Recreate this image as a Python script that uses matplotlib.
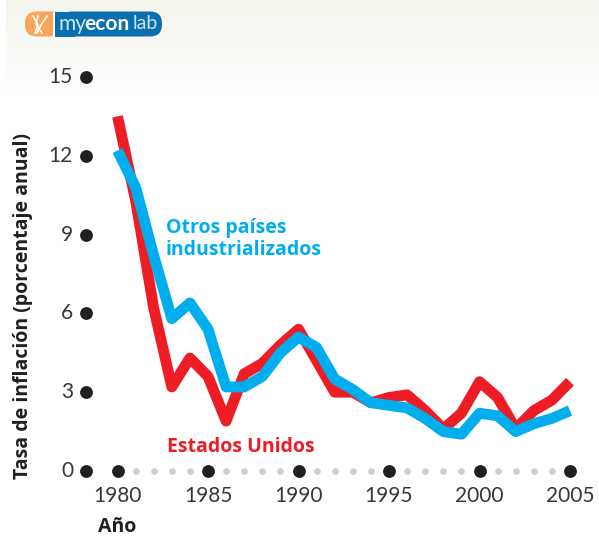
import numpy as np
import matplotlib
matplotlib.use('Agg')
import matplotlib.pyplot as plt
from matplotlib.patches import FancyBboxPatch, Rectangle

## Data
years = np.arange(1980, 2006)
usa = [13.5, 10.3, 6.2, 3.2, 4.3, 3.6, 1.9, 3.7, 4.1, 4.8, 5.4, 4.2, 3.0,
       3.0, 2.6, 2.8, 2.9, 2.3, 1.6, 2.2, 3.4, 2.8, 1.6, 2.3, 2.7, 3.4]
others = [12.2, 10.8, 8.2, 5.8, 6.4, 5.4, 3.2, 3.2, 3.6, 4.5, 5.1, 4.7, 3.5,
          3.1, 2.6, 2.5, 2.4, 2.0, 1.5, 1.4, 2.2, 2.1, 1.5, 1.8, 2.0, 2.3]
y_ticks = [0, 3, 6, 9, 12, 15]
x_ticks = [1980, 1985, 1990, 1995, 2000, 2005]
minor_years = [y for y in years if y not in x_ticks]

RED = '#ee1c25'
BLUE = '#00aeef'
DARK = '#231f20'
GREY = '#d1cccd'
LOGO_BLUE = '#0a6fad'

W, H = 599, 537
fig = plt.figure(figsize=(W/100, H/100), dpi=100)

# top background fade
bg = fig.add_axes([0, 0, 1, 1], zorder=0)
bg.axis('off')
fade = np.linspace(0, 1, 100)[:, None, None]
grad = np.ones((100, 1, 3))*(np.array([0.955, 0.96, 0.93])*(1-fade) + fade)
bg.imshow(grad, extent=[6, W, 90, 0], aspect='auto')
bg.set_xlim(0, W)
bg.set_ylim(H, 0)

# logo
bg.add_patch(FancyBboxPatch((60, 11.5), 102, 25, boxstyle='round,pad=0,rounding_size=12',
                            fc=LOGO_BLUE, ec='none'))
bg.add_patch(FancyBboxPatch((25, 11.5), 40, 25, boxstyle='round,pad=0,rounding_size=12',
                            fc='#f9a65a', ec='none'))
bg.add_patch(Rectangle((53, 11.5), 1.5, 25, fc='white', ec='none'))
bg.add_patch(Rectangle((54.5, 11.5), 20, 25, fc=LOGO_BLUE, ec='none'))
bg.plot([33, 38, 35], [16, 25, 33], color='white', lw=1.2)
bg.plot([38, 36, 42], [16, 24, 33], color='white', lw=1.2)
bg.plot([47, 41, 37], [16, 25, 33], color='white', lw=1.2)
bg.text(58, 23.5, 'my', color='#cfe4f2', fontsize=15, ha='left', va='center', family='Lato')
bg.text(84, 23.5, 'econ', color='white', fontsize=15, fontweight='bold', ha='left', va='center', family='Lato')
bg.text(133, 23.5, 'lab', color='#cfe4f2', fontsize=14, ha='left', va='center', family='Lato')

# plot area in pixels: 1980 at x=117.5, 2005 at x=570, 0 at y=471, 15 at y=77
px_year = (570-117.5)/25
px_unit = (471-77)/15
left, right = 60, 590
bottom, top = 490, 60
ax = fig.add_axes([left/W, 1-bottom/H, (right-left)/W, (bottom-top)/H], zorder=1)
ax.patch.set_alpha(0)
ax.set_xlim(1980+(left-117.5)/px_year, 1980+(right-117.5)/px_year)
ax.set_ylim((471-bottom)/px_unit, (471-top)/px_unit)

ax.plot(years, usa, color=RED, lw=7.8, solid_capstyle='butt', solid_joinstyle='round', zorder=2)
ax.plot(years, others, color=BLUE, lw=7.8, solid_capstyle='butt', solid_joinstyle='round', zorder=3)

# dotted axes
x_axis = 1980+(85.5-117.5)/px_year
ax.scatter([x_axis]*len(y_ticks), y_ticks, s=85, color=DARK, lw=0, zorder=4, clip_on=False)
ax.scatter(x_ticks, [0]*len(x_ticks), s=85, color=DARK, lw=0, zorder=4, clip_on=False)
ax.scatter(minor_years, [0]*len(minor_years), s=23, color=GREY, lw=0, zorder=4, clip_on=False)

for s in ax.spines.values():
    s.set_visible(False)
ax.set_xticks(x_ticks)
ax.set_yticks(y_ticks)
ax.tick_params(length=0, labelsize=15, labelcolor='#3a3637')
ax.tick_params(axis='x', pad=-3)
ax.tick_params(axis='y', labelleft=False)
for lab in ax.get_xticklabels():
    lab.set_family('Lato')
for v in y_ticks:
    ax.text(x_axis-(12.5/px_year), v, str(v), fontsize=15, color='#3a3637', family='Lato',
            ha='right', va='center')

ax.text(1980+(166-117.5)/px_year, (471-239)/px_unit, 'Otros países\nindustrializados', color=BLUE,
        fontsize=14, fontweight='bold', family='Open Sans', va='center', ha='left', linespacing=1.1)
ax.text(1980+(167-117.5)/px_year, (471-446.5)/px_unit, 'Estados Unidos', color=RED,
        fontsize=14, fontweight='bold', family='Open Sans', va='center', ha='left')

bg.text(23, 306, 'Tasa de inflación (porcentaje anual)', rotation=90, color=DARK, fontsize=14,
        fontweight='bold', family='Open Sans', ha='center', va='center')
bg.text(117, 527, 'Año', color=DARK, fontsize=14, fontweight='bold', family='Open Sans',
        ha='center', va='center')

fig.savefig('out.png', dpi=100)
